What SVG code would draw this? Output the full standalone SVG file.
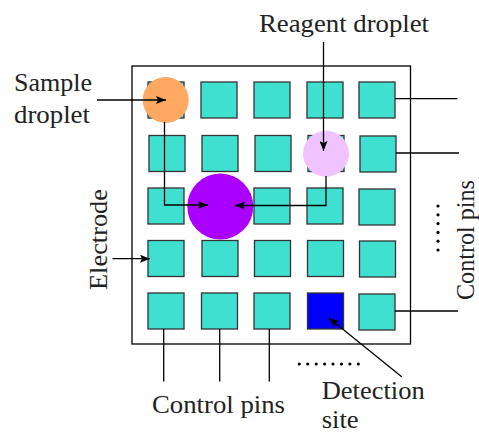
<svg xmlns="http://www.w3.org/2000/svg" width="479" height="433" viewBox="0 0 479 433">
  <style>
    .pad { fill: #40E0D0; stroke: #333; stroke-width: 1.3; }
    .wire { fill: none; stroke: #000; stroke-width: 1.3; }
    .lbl { font-family: "Liberation Serif", "Times New Roman", serif; font-size: 25px; fill: #222; }
    .dot { fill: #000; }
  </style>
  <defs>
    <marker id="arr" viewBox="0 0 10 8" refX="10" refY="4" markerWidth="10" markerHeight="8" markerUnits="userSpaceOnUse" orient="auto">
      <path d="M0,0 L10,4 L0,8 L2,4 Z" fill="#000"/>
    </marker>
  </defs>
  <rect width="479" height="433" fill="#fff"/>

  <!-- chip outline -->
  <rect id="chip" x="132" y="66" width="278.5" height="278" fill="none" stroke="#000" stroke-width="1.3"/>

  <!-- electrode array -->
  <g id="electrodes">
    <rect class="pad" x="148" y="82" width="36" height="36"/>
    <rect class="pad" x="201" y="82" width="36" height="36"/>
    <rect class="pad" x="254" y="82" width="36" height="36"/>
    <rect class="pad" x="307" y="82" width="36" height="36"/>
    <rect class="pad" x="359" y="82" width="36" height="36"/>

    <rect class="pad" x="149" y="135.5" width="36" height="36"/>
    <rect class="pad" x="202" y="135.5" width="36" height="36"/>
    <rect class="pad" x="255" y="135.5" width="36" height="36"/>
    <rect class="pad" x="308" y="135.5" width="36" height="36"/>
    <rect class="pad" x="360" y="136" width="36" height="36"/>

    <rect class="pad" x="148" y="188" width="36" height="36"/>
    <rect class="pad" x="201" y="188" width="36" height="36"/>
    <rect class="pad" x="254" y="188" width="36" height="36"/>
    <rect class="pad" x="307" y="188" width="36" height="36"/>
    <rect class="pad" x="359" y="189" width="36" height="36"/>

    <rect class="pad" x="148" y="240.5" width="36" height="36"/>
    <rect class="pad" x="202" y="240.5" width="36" height="36"/>
    <rect class="pad" x="254.5" y="240.5" width="36" height="36"/>
    <rect class="pad" x="307.5" y="240.5" width="36" height="36"/>
    <rect class="pad" x="359.5" y="241" width="36" height="36"/>

    <rect class="pad" x="148" y="293" width="36" height="36"/>
    <rect class="pad" x="201.5" y="293" width="36" height="36"/>
    <rect class="pad" x="254" y="293" width="36" height="36"/>
    <rect id="detection-site" x="307.5" y="293" width="36" height="36" fill="#0000FF" stroke="#333" stroke-width="1.3"/>
    <rect class="pad" x="359" y="294" width="36" height="36"/>
  </g>

  <!-- droplets -->
  <g id="sample-droplet"><circle cx="165.7" cy="100" r="23" fill="#FFA862"/></g>
  <g id="reagent-droplet"><circle cx="326" cy="153.7" r="23" fill="#F0C2FF"/></g>
  <g id="merged-droplet"><circle cx="220.3" cy="206.5" r="33" fill="#AA00FF"/></g>

  <!-- connectors -->
  <g id="connectors">
    <line class="wire" x1="97" y1="100" x2="166" y2="100" marker-end="url(#arr)"/>
    <line class="wire" x1="323.5" y1="42" x2="323.5" y2="151" marker-end="url(#arr)"/>
    <polyline class="wire" points="164.5,122 164.5,205 208,205" marker-end="url(#arr)"/>
    <polyline class="wire" points="326,176 326,205.5 235,205.5" marker-end="url(#arr)"/>
    <line class="wire" x1="112.5" y1="258.7" x2="150" y2="258.7" marker-end="url(#arr)"/>
    <line class="wire" x1="401.7" y1="376.7" x2="329" y2="318" marker-end="url(#arr)"/>

    <!-- control pin leads -->
    <line class="wire" x1="395" y1="98.7" x2="457.5" y2="98.7"/>
    <line class="wire" x1="396" y1="153" x2="459" y2="153"/>
    <line class="wire" x1="395" y1="311" x2="458" y2="311"/>
    <line class="wire" x1="163.7" y1="329" x2="163.7" y2="381.5"/>
    <line class="wire" x1="219.7" y1="329" x2="219.7" y2="381.5"/>
    <line class="wire" x1="269.3" y1="329" x2="269.3" y2="381.5"/>
  </g>

  <!-- continuation dots -->
  <g id="dots-bottom">
    <circle class="dot" cx="299.3" cy="364" r="1.6"/>
    <circle class="dot" cx="307.7" cy="364" r="1.6"/>
    <circle class="dot" cx="316.2" cy="364" r="1.6"/>
    <circle class="dot" cx="324.6" cy="364" r="1.6"/>
    <circle class="dot" cx="333.0" cy="364" r="1.6"/>
    <circle class="dot" cx="341.5" cy="364" r="1.6"/>
    <circle class="dot" cx="349.9" cy="364" r="1.6"/>
    <circle class="dot" cx="358.3" cy="364" r="1.6"/>
  </g>
  <g id="dots-right">
    <circle class="dot" cx="438" cy="206" r="1.6"/>
    <circle class="dot" cx="438" cy="214.8" r="1.6"/>
    <circle class="dot" cx="438" cy="223.6" r="1.6"/>
    <circle class="dot" cx="438" cy="232.4" r="1.6"/>
    <circle class="dot" cx="438" cy="241.2" r="1.6"/>
    <circle class="dot" cx="438" cy="250" r="1.6"/>
  </g>

  <!-- labels -->
  <g id="labels">
    <text class="lbl" x="259" y="31.5" textLength="170" lengthAdjust="spacingAndGlyphs">Reagent droplet</text>
    <text class="lbl" x="14" y="90.5" textLength="78" lengthAdjust="spacingAndGlyphs">Sample</text>
    <text class="lbl" x="14" y="123" textLength="76" lengthAdjust="spacingAndGlyphs">droplet</text>
    <text class="lbl" transform="translate(107,290) rotate(-90)" x="0" y="0" textLength="101" lengthAdjust="spacingAndGlyphs">Electrode</text>
    <text class="lbl" transform="translate(474,300) rotate(-90)" x="0" y="0" textLength="120" lengthAdjust="spacingAndGlyphs">Control pins</text>
    <text class="lbl" x="152" y="413" textLength="133" lengthAdjust="spacingAndGlyphs">Control pins</text>
    <text class="lbl" x="321.7" y="399" textLength="103" lengthAdjust="spacingAndGlyphs">Detection</text>
    <text class="lbl" x="321.7" y="428" textLength="37" lengthAdjust="spacingAndGlyphs">site</text>
  </g>
</svg>
